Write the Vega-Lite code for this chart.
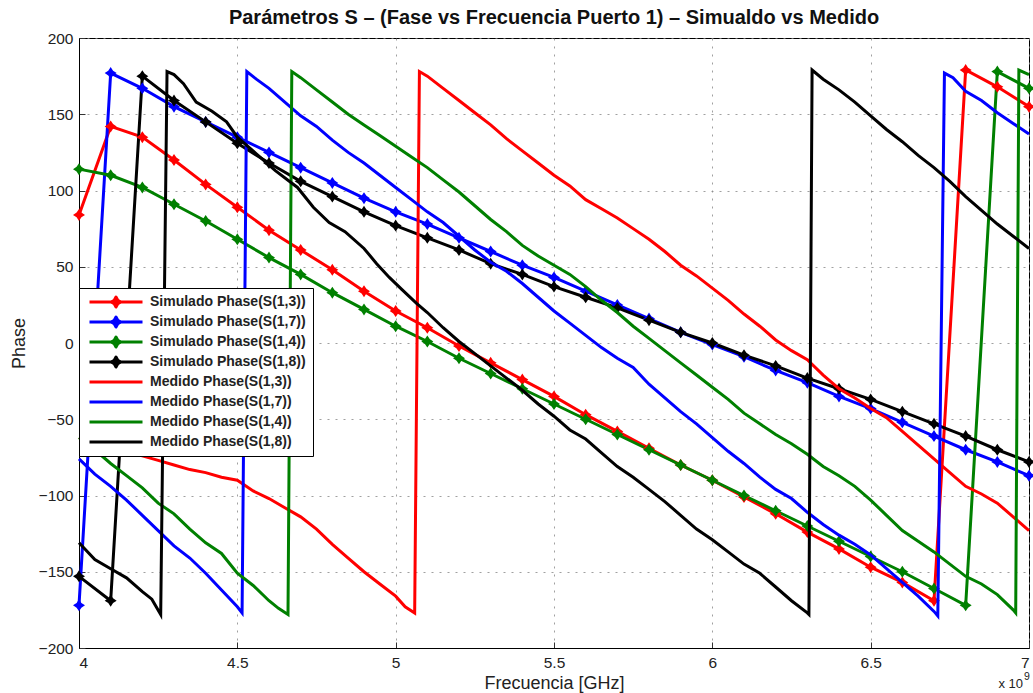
{
"$schema":"https://vega.github.io/schema/vega-lite/v6.json",
"width":950,"height":610,
"autosize":{"type":"none"},
"padding":{"left":79,"top":38,"right":4,"bottom":45},
"background":"white",
"title":{"text":"Parámetros S – (Fase vs Frecuencia Puerto 1) – Simualdo vs Medido","fontSize":20,"fontWeight":"bold","font":"Liberation Sans","offset":3,"anchor":"middle","color":"#111"},
"config":{"view":{"stroke":"black","strokeWidth":1},"font":"Liberation Sans",
"axis":{"labelFont":"Liberation Sans","labelFontSize":15.5,"labelColor":"#222","titleFont":"Liberation Sans","titleFontSize":18,"titleFontWeight":"normal","titleColor":"#222","grid":true,"gridColor":"#888","gridDash":[2,6],"gridOpacity":0.8,"domainColor":"black","ticks":true,"tickSize":-6,"tickColor":"#333","labelPadding":13}},
"data":{"values":[
{"s":"Simulado Phase(S(1,3))","f":4.0,"p":84},{"s":"Simulado Phase(S(1,3))","f":4.1,"p":142},{"s":"Simulado Phase(S(1,3))","f":4.2,"p":135},{"s":"Simulado Phase(S(1,3))","f":4.3,"p":120},{"s":"Simulado Phase(S(1,3))","f":4.4,"p":104},{"s":"Simulado Phase(S(1,3))","f":4.5,"p":89},{"s":"Simulado Phase(S(1,3))","f":4.6,"p":74},{"s":"Simulado Phase(S(1,3))","f":4.7,"p":61},{"s":"Simulado Phase(S(1,3))","f":4.8,"p":48},{"s":"Simulado Phase(S(1,3))","f":4.9,"p":34},{"s":"Simulado Phase(S(1,3))","f":5.0,"p":21},{"s":"Simulado Phase(S(1,3))","f":5.1,"p":10},{"s":"Simulado Phase(S(1,3))","f":5.2,"p":-2},{"s":"Simulado Phase(S(1,3))","f":5.3,"p":-13},{"s":"Simulado Phase(S(1,3))","f":5.4,"p":-24},{"s":"Simulado Phase(S(1,3))","f":5.5,"p":-35},{"s":"Simulado Phase(S(1,3))","f":5.6,"p":-47},{"s":"Simulado Phase(S(1,3))","f":5.7,"p":-58},{"s":"Simulado Phase(S(1,3))","f":5.8,"p":-69},{"s":"Simulado Phase(S(1,3))","f":5.9,"p":-80},{"s":"Simulado Phase(S(1,3))","f":6.0,"p":-90},{"s":"Simulado Phase(S(1,3))","f":6.1,"p":-101},{"s":"Simulado Phase(S(1,3))","f":6.2,"p":-112},{"s":"Simulado Phase(S(1,3))","f":6.3,"p":-124},{"s":"Simulado Phase(S(1,3))","f":6.4,"p":-135},{"s":"Simulado Phase(S(1,3))","f":6.5,"p":-147},{"s":"Simulado Phase(S(1,3))","f":6.6,"p":-157},{"s":"Simulado Phase(S(1,3))","f":6.7,"p":-169},{"s":"Simulado Phase(S(1,3))","f":6.8,"p":179},{"s":"Simulado Phase(S(1,3))","f":6.9,"p":168},{"s":"Simulado Phase(S(1,3))","f":7.0,"p":155},
{"s":"Simulado Phase(S(1,7))","f":4.0,"p":-172},{"s":"Simulado Phase(S(1,7))","f":4.1,"p":177},{"s":"Simulado Phase(S(1,7))","f":4.2,"p":167},{"s":"Simulado Phase(S(1,7))","f":4.3,"p":155},{"s":"Simulado Phase(S(1,7))","f":4.4,"p":145},{"s":"Simulado Phase(S(1,7))","f":4.5,"p":135},{"s":"Simulado Phase(S(1,7))","f":4.6,"p":125},{"s":"Simulado Phase(S(1,7))","f":4.7,"p":115},{"s":"Simulado Phase(S(1,7))","f":4.8,"p":105},{"s":"Simulado Phase(S(1,7))","f":4.9,"p":95},{"s":"Simulado Phase(S(1,7))","f":5.0,"p":86},{"s":"Simulado Phase(S(1,7))","f":5.1,"p":78},{"s":"Simulado Phase(S(1,7))","f":5.2,"p":69},{"s":"Simulado Phase(S(1,7))","f":5.3,"p":60},{"s":"Simulado Phase(S(1,7))","f":5.4,"p":51},{"s":"Simulado Phase(S(1,7))","f":5.5,"p":43},{"s":"Simulado Phase(S(1,7))","f":5.6,"p":34},{"s":"Simulado Phase(S(1,7))","f":5.7,"p":25},{"s":"Simulado Phase(S(1,7))","f":5.8,"p":16},{"s":"Simulado Phase(S(1,7))","f":5.9,"p":7},{"s":"Simulado Phase(S(1,7))","f":6.0,"p":-1},{"s":"Simulado Phase(S(1,7))","f":6.1,"p":-9},{"s":"Simulado Phase(S(1,7))","f":6.2,"p":-18},{"s":"Simulado Phase(S(1,7))","f":6.3,"p":-26},{"s":"Simulado Phase(S(1,7))","f":6.4,"p":-35},{"s":"Simulado Phase(S(1,7))","f":6.5,"p":-43},{"s":"Simulado Phase(S(1,7))","f":6.6,"p":-52},{"s":"Simulado Phase(S(1,7))","f":6.7,"p":-61},{"s":"Simulado Phase(S(1,7))","f":6.8,"p":-70},{"s":"Simulado Phase(S(1,7))","f":6.9,"p":-78},{"s":"Simulado Phase(S(1,7))","f":7.0,"p":-87},
{"s":"Simulado Phase(S(1,4))","f":4.0,"p":114},{"s":"Simulado Phase(S(1,4))","f":4.1,"p":110},{"s":"Simulado Phase(S(1,4))","f":4.2,"p":102},{"s":"Simulado Phase(S(1,4))","f":4.3,"p":91},{"s":"Simulado Phase(S(1,4))","f":4.4,"p":80},{"s":"Simulado Phase(S(1,4))","f":4.5,"p":68},{"s":"Simulado Phase(S(1,4))","f":4.6,"p":56},{"s":"Simulado Phase(S(1,4))","f":4.7,"p":45},{"s":"Simulado Phase(S(1,4))","f":4.8,"p":33},{"s":"Simulado Phase(S(1,4))","f":4.9,"p":22},{"s":"Simulado Phase(S(1,4))","f":5.0,"p":11},{"s":"Simulado Phase(S(1,4))","f":5.1,"p":1},{"s":"Simulado Phase(S(1,4))","f":5.2,"p":-10},{"s":"Simulado Phase(S(1,4))","f":5.3,"p":-20},{"s":"Simulado Phase(S(1,4))","f":5.4,"p":-30},{"s":"Simulado Phase(S(1,4))","f":5.5,"p":-40},{"s":"Simulado Phase(S(1,4))","f":5.6,"p":-50},{"s":"Simulado Phase(S(1,4))","f":5.7,"p":-60},{"s":"Simulado Phase(S(1,4))","f":5.8,"p":-70},{"s":"Simulado Phase(S(1,4))","f":5.9,"p":-80},{"s":"Simulado Phase(S(1,4))","f":6.0,"p":-90},{"s":"Simulado Phase(S(1,4))","f":6.1,"p":-100},{"s":"Simulado Phase(S(1,4))","f":6.2,"p":-110},{"s":"Simulado Phase(S(1,4))","f":6.3,"p":-120},{"s":"Simulado Phase(S(1,4))","f":6.4,"p":-130},{"s":"Simulado Phase(S(1,4))","f":6.5,"p":-140},{"s":"Simulado Phase(S(1,4))","f":6.6,"p":-150},{"s":"Simulado Phase(S(1,4))","f":6.7,"p":-161},{"s":"Simulado Phase(S(1,4))","f":6.8,"p":-172},{"s":"Simulado Phase(S(1,4))","f":6.9,"p":178},{"s":"Simulado Phase(S(1,4))","f":7.0,"p":167},
{"s":"Simulado Phase(S(1,8))","f":4.0,"p":-153},{"s":"Simulado Phase(S(1,8))","f":4.1,"p":-169},{"s":"Simulado Phase(S(1,8))","f":4.2,"p":175},{"s":"Simulado Phase(S(1,8))","f":4.3,"p":159},{"s":"Simulado Phase(S(1,8))","f":4.4,"p":145},{"s":"Simulado Phase(S(1,8))","f":4.5,"p":131},{"s":"Simulado Phase(S(1,8))","f":4.6,"p":118},{"s":"Simulado Phase(S(1,8))","f":4.7,"p":106},{"s":"Simulado Phase(S(1,8))","f":4.8,"p":96},{"s":"Simulado Phase(S(1,8))","f":4.9,"p":86},{"s":"Simulado Phase(S(1,8))","f":5.0,"p":77},{"s":"Simulado Phase(S(1,8))","f":5.1,"p":69},{"s":"Simulado Phase(S(1,8))","f":5.2,"p":61},{"s":"Simulado Phase(S(1,8))","f":5.3,"p":52},{"s":"Simulado Phase(S(1,8))","f":5.4,"p":45},{"s":"Simulado Phase(S(1,8))","f":5.5,"p":37},{"s":"Simulado Phase(S(1,8))","f":5.6,"p":30},{"s":"Simulado Phase(S(1,8))","f":5.7,"p":23},{"s":"Simulado Phase(S(1,8))","f":5.8,"p":15},{"s":"Simulado Phase(S(1,8))","f":5.9,"p":7},{"s":"Simulado Phase(S(1,8))","f":6.0,"p":0},{"s":"Simulado Phase(S(1,8))","f":6.1,"p":-8},{"s":"Simulado Phase(S(1,8))","f":6.2,"p":-15},{"s":"Simulado Phase(S(1,8))","f":6.3,"p":-23},{"s":"Simulado Phase(S(1,8))","f":6.4,"p":-30},{"s":"Simulado Phase(S(1,8))","f":6.5,"p":-37},{"s":"Simulado Phase(S(1,8))","f":6.6,"p":-45},{"s":"Simulado Phase(S(1,8))","f":6.7,"p":-53},{"s":"Simulado Phase(S(1,8))","f":6.8,"p":-61},{"s":"Simulado Phase(S(1,8))","f":6.9,"p":-70},{"s":"Simulado Phase(S(1,8))","f":7.0,"p":-78},
{"s":"Medido Phase(S(1,3))","f":4.0,"p":-62},{"s":"Medido Phase(S(1,3))","f":4.05,"p":-66},{"s":"Medido Phase(S(1,3))","f":4.1,"p":-69},{"s":"Medido Phase(S(1,3))","f":4.15,"p":-72},{"s":"Medido Phase(S(1,3))","f":4.2,"p":-74},{"s":"Medido Phase(S(1,3))","f":4.25,"p":-77},{"s":"Medido Phase(S(1,3))","f":4.3,"p":-80},{"s":"Medido Phase(S(1,3))","f":4.35,"p":-83},{"s":"Medido Phase(S(1,3))","f":4.4,"p":-85},{"s":"Medido Phase(S(1,3))","f":4.45,"p":-88},{"s":"Medido Phase(S(1,3))","f":4.5,"p":-90},{"s":"Medido Phase(S(1,3))","f":4.55,"p":-97},{"s":"Medido Phase(S(1,3))","f":4.6,"p":-102},{"s":"Medido Phase(S(1,3))","f":4.65,"p":-108},{"s":"Medido Phase(S(1,3))","f":4.7,"p":-114},{"s":"Medido Phase(S(1,3))","f":4.75,"p":-122},{"s":"Medido Phase(S(1,3))","f":4.8,"p":-132},{"s":"Medido Phase(S(1,3))","f":4.85,"p":-141},{"s":"Medido Phase(S(1,3))","f":4.9,"p":-150},{"s":"Medido Phase(S(1,3))","f":4.95,"p":-158},{"s":"Medido Phase(S(1,3))","f":5.0,"p":-166},{"s":"Medido Phase(S(1,3))","f":5.03,"p":-173},{"s":"Medido Phase(S(1,3))","f":5.06,"p":-177},{"s":"Medido Phase(S(1,3))","f":5.075,"p":178},{"s":"Medido Phase(S(1,3))","f":5.1,"p":175},{"s":"Medido Phase(S(1,3))","f":5.15,"p":167},{"s":"Medido Phase(S(1,3))","f":5.2,"p":159},{"s":"Medido Phase(S(1,3))","f":5.25,"p":151},{"s":"Medido Phase(S(1,3))","f":5.3,"p":143},{"s":"Medido Phase(S(1,3))","f":5.35,"p":134},{"s":"Medido Phase(S(1,3))","f":5.4,"p":126},{"s":"Medido Phase(S(1,3))","f":5.45,"p":118},{"s":"Medido Phase(S(1,3))","f":5.5,"p":110},{"s":"Medido Phase(S(1,3))","f":5.55,"p":103},{"s":"Medido Phase(S(1,3))","f":5.6,"p":94},{"s":"Medido Phase(S(1,3))","f":5.65,"p":88},{"s":"Medido Phase(S(1,3))","f":5.7,"p":82},{"s":"Medido Phase(S(1,3))","f":5.75,"p":75},{"s":"Medido Phase(S(1,3))","f":5.8,"p":68},{"s":"Medido Phase(S(1,3))","f":5.85,"p":60},{"s":"Medido Phase(S(1,3))","f":5.9,"p":51},{"s":"Medido Phase(S(1,3))","f":5.95,"p":44},{"s":"Medido Phase(S(1,3))","f":6.0,"p":36},{"s":"Medido Phase(S(1,3))","f":6.05,"p":28},{"s":"Medido Phase(S(1,3))","f":6.1,"p":19},{"s":"Medido Phase(S(1,3))","f":6.15,"p":11},{"s":"Medido Phase(S(1,3))","f":6.2,"p":2},{"s":"Medido Phase(S(1,3))","f":6.25,"p":-5},{"s":"Medido Phase(S(1,3))","f":6.3,"p":-11},{"s":"Medido Phase(S(1,3))","f":6.35,"p":-21},{"s":"Medido Phase(S(1,3))","f":6.4,"p":-30},{"s":"Medido Phase(S(1,3))","f":6.45,"p":-36},{"s":"Medido Phase(S(1,3))","f":6.5,"p":-43},{"s":"Medido Phase(S(1,3))","f":6.55,"p":-49},{"s":"Medido Phase(S(1,3))","f":6.6,"p":-58},{"s":"Medido Phase(S(1,3))","f":6.65,"p":-67},{"s":"Medido Phase(S(1,3))","f":6.7,"p":-76},{"s":"Medido Phase(S(1,3))","f":6.75,"p":-85},{"s":"Medido Phase(S(1,3))","f":6.8,"p":-94},{"s":"Medido Phase(S(1,3))","f":6.85,"p":-99},{"s":"Medido Phase(S(1,3))","f":6.9,"p":-105},{"s":"Medido Phase(S(1,3))","f":6.95,"p":-114},{"s":"Medido Phase(S(1,3))","f":7.0,"p":-123},
{"s":"Medido Phase(S(1,7))","f":4.0,"p":-76},{"s":"Medido Phase(S(1,7))","f":4.05,"p":-86},{"s":"Medido Phase(S(1,7))","f":4.1,"p":-94},{"s":"Medido Phase(S(1,7))","f":4.15,"p":-103},{"s":"Medido Phase(S(1,7))","f":4.2,"p":-113},{"s":"Medido Phase(S(1,7))","f":4.25,"p":-123},{"s":"Medido Phase(S(1,7))","f":4.3,"p":-133},{"s":"Medido Phase(S(1,7))","f":4.35,"p":-141},{"s":"Medido Phase(S(1,7))","f":4.4,"p":-151},{"s":"Medido Phase(S(1,7))","f":4.45,"p":-162},{"s":"Medido Phase(S(1,7))","f":4.5,"p":-173},{"s":"Medido Phase(S(1,7))","f":4.515,"p":-177},{"s":"Medido Phase(S(1,7))","f":4.53,"p":178},{"s":"Medido Phase(S(1,7))","f":4.56,"p":173},{"s":"Medido Phase(S(1,7))","f":4.6,"p":167},{"s":"Medido Phase(S(1,7))","f":4.65,"p":158},{"s":"Medido Phase(S(1,7))","f":4.7,"p":149},{"s":"Medido Phase(S(1,7))","f":4.75,"p":142},{"s":"Medido Phase(S(1,7))","f":4.8,"p":133},{"s":"Medido Phase(S(1,7))","f":4.85,"p":125},{"s":"Medido Phase(S(1,7))","f":4.9,"p":118},{"s":"Medido Phase(S(1,7))","f":4.95,"p":110},{"s":"Medido Phase(S(1,7))","f":5.0,"p":102},{"s":"Medido Phase(S(1,7))","f":5.05,"p":94},{"s":"Medido Phase(S(1,7))","f":5.1,"p":86},{"s":"Medido Phase(S(1,7))","f":5.15,"p":79},{"s":"Medido Phase(S(1,7))","f":5.2,"p":70},{"s":"Medido Phase(S(1,7))","f":5.25,"p":61},{"s":"Medido Phase(S(1,7))","f":5.3,"p":53},{"s":"Medido Phase(S(1,7))","f":5.35,"p":47},{"s":"Medido Phase(S(1,7))","f":5.4,"p":39},{"s":"Medido Phase(S(1,7))","f":5.45,"p":30},{"s":"Medido Phase(S(1,7))","f":5.5,"p":21},{"s":"Medido Phase(S(1,7))","f":5.55,"p":13},{"s":"Medido Phase(S(1,7))","f":5.6,"p":5},{"s":"Medido Phase(S(1,7))","f":5.65,"p":-3},{"s":"Medido Phase(S(1,7))","f":5.7,"p":-10},{"s":"Medido Phase(S(1,7))","f":5.75,"p":-16},{"s":"Medido Phase(S(1,7))","f":5.8,"p":-27},{"s":"Medido Phase(S(1,7))","f":5.85,"p":-36},{"s":"Medido Phase(S(1,7))","f":5.9,"p":-45},{"s":"Medido Phase(S(1,7))","f":5.95,"p":-53},{"s":"Medido Phase(S(1,7))","f":6.0,"p":-62},{"s":"Medido Phase(S(1,7))","f":6.05,"p":-71},{"s":"Medido Phase(S(1,7))","f":6.1,"p":-79},{"s":"Medido Phase(S(1,7))","f":6.15,"p":-88},{"s":"Medido Phase(S(1,7))","f":6.2,"p":-96},{"s":"Medido Phase(S(1,7))","f":6.25,"p":-102},{"s":"Medido Phase(S(1,7))","f":6.3,"p":-111},{"s":"Medido Phase(S(1,7))","f":6.35,"p":-119},{"s":"Medido Phase(S(1,7))","f":6.4,"p":-126},{"s":"Medido Phase(S(1,7))","f":6.45,"p":-132},{"s":"Medido Phase(S(1,7))","f":6.5,"p":-139},{"s":"Medido Phase(S(1,7))","f":6.55,"p":-148},{"s":"Medido Phase(S(1,7))","f":6.6,"p":-157},{"s":"Medido Phase(S(1,7))","f":6.65,"p":-166},{"s":"Medido Phase(S(1,7))","f":6.7,"p":-176},{"s":"Medido Phase(S(1,7))","f":6.712,"p":-179},{"s":"Medido Phase(S(1,7))","f":6.733,"p":177},{"s":"Medido Phase(S(1,7))","f":6.76,"p":174},{"s":"Medido Phase(S(1,7))","f":6.8,"p":165},{"s":"Medido Phase(S(1,7))","f":6.85,"p":159},{"s":"Medido Phase(S(1,7))","f":6.9,"p":151},{"s":"Medido Phase(S(1,7))","f":6.95,"p":144},{"s":"Medido Phase(S(1,7))","f":7.0,"p":137},
{"s":"Medido Phase(S(1,4))","f":4.0,"p":-62},{"s":"Medido Phase(S(1,4))","f":4.05,"p":-70},{"s":"Medido Phase(S(1,4))","f":4.1,"p":-79},{"s":"Medido Phase(S(1,4))","f":4.15,"p":-87},{"s":"Medido Phase(S(1,4))","f":4.2,"p":-95},{"s":"Medido Phase(S(1,4))","f":4.25,"p":-105},{"s":"Medido Phase(S(1,4))","f":4.3,"p":-112},{"s":"Medido Phase(S(1,4))","f":4.35,"p":-122},{"s":"Medido Phase(S(1,4))","f":4.4,"p":-131},{"s":"Medido Phase(S(1,4))","f":4.45,"p":-138},{"s":"Medido Phase(S(1,4))","f":4.5,"p":-151},{"s":"Medido Phase(S(1,4))","f":4.55,"p":-159},{"s":"Medido Phase(S(1,4))","f":4.6,"p":-169},{"s":"Medido Phase(S(1,4))","f":4.63,"p":-174},{"s":"Medido Phase(S(1,4))","f":4.66,"p":-178},{"s":"Medido Phase(S(1,4))","f":4.672,"p":178},{"s":"Medido Phase(S(1,4))","f":4.7,"p":174},{"s":"Medido Phase(S(1,4))","f":4.75,"p":166},{"s":"Medido Phase(S(1,4))","f":4.8,"p":158},{"s":"Medido Phase(S(1,4))","f":4.85,"p":150},{"s":"Medido Phase(S(1,4))","f":4.9,"p":143},{"s":"Medido Phase(S(1,4))","f":4.95,"p":136},{"s":"Medido Phase(S(1,4))","f":5.0,"p":129},{"s":"Medido Phase(S(1,4))","f":5.05,"p":122},{"s":"Medido Phase(S(1,4))","f":5.1,"p":115},{"s":"Medido Phase(S(1,4))","f":5.15,"p":107},{"s":"Medido Phase(S(1,4))","f":5.2,"p":99},{"s":"Medido Phase(S(1,4))","f":5.25,"p":90},{"s":"Medido Phase(S(1,4))","f":5.3,"p":81},{"s":"Medido Phase(S(1,4))","f":5.35,"p":73},{"s":"Medido Phase(S(1,4))","f":5.4,"p":64},{"s":"Medido Phase(S(1,4))","f":5.45,"p":57},{"s":"Medido Phase(S(1,4))","f":5.5,"p":51},{"s":"Medido Phase(S(1,4))","f":5.55,"p":45},{"s":"Medido Phase(S(1,4))","f":5.6,"p":37},{"s":"Medido Phase(S(1,4))","f":5.65,"p":28},{"s":"Medido Phase(S(1,4))","f":5.7,"p":20},{"s":"Medido Phase(S(1,4))","f":5.75,"p":11},{"s":"Medido Phase(S(1,4))","f":5.8,"p":3},{"s":"Medido Phase(S(1,4))","f":5.85,"p":-5},{"s":"Medido Phase(S(1,4))","f":5.9,"p":-13},{"s":"Medido Phase(S(1,4))","f":5.95,"p":-21},{"s":"Medido Phase(S(1,4))","f":6.0,"p":-29},{"s":"Medido Phase(S(1,4))","f":6.05,"p":-37},{"s":"Medido Phase(S(1,4))","f":6.1,"p":-46},{"s":"Medido Phase(S(1,4))","f":6.15,"p":-53},{"s":"Medido Phase(S(1,4))","f":6.2,"p":-60},{"s":"Medido Phase(S(1,4))","f":6.25,"p":-66},{"s":"Medido Phase(S(1,4))","f":6.3,"p":-73},{"s":"Medido Phase(S(1,4))","f":6.35,"p":-81},{"s":"Medido Phase(S(1,4))","f":6.4,"p":-87},{"s":"Medido Phase(S(1,4))","f":6.45,"p":-94},{"s":"Medido Phase(S(1,4))","f":6.5,"p":-103},{"s":"Medido Phase(S(1,4))","f":6.55,"p":-113},{"s":"Medido Phase(S(1,4))","f":6.6,"p":-123},{"s":"Medido Phase(S(1,4))","f":6.65,"p":-130},{"s":"Medido Phase(S(1,4))","f":6.7,"p":-137},{"s":"Medido Phase(S(1,4))","f":6.75,"p":-145},{"s":"Medido Phase(S(1,4))","f":6.8,"p":-153},{"s":"Medido Phase(S(1,4))","f":6.85,"p":-158},{"s":"Medido Phase(S(1,4))","f":6.9,"p":-165},{"s":"Medido Phase(S(1,4))","f":6.95,"p":-175},{"s":"Medido Phase(S(1,4))","f":6.958,"p":-177},{"s":"Medido Phase(S(1,4))","f":6.968,"p":179},{"s":"Medido Phase(S(1,4))","f":7.0,"p":176},
{"s":"Medido Phase(S(1,8))","f":4.0,"p":-131},{"s":"Medido Phase(S(1,8))","f":4.05,"p":-142},{"s":"Medido Phase(S(1,8))","f":4.1,"p":-148},{"s":"Medido Phase(S(1,8))","f":4.15,"p":-154},{"s":"Medido Phase(S(1,8))","f":4.2,"p":-163},{"s":"Medido Phase(S(1,8))","f":4.23,"p":-168},{"s":"Medido Phase(S(1,8))","f":4.258,"p":-178},{"s":"Medido Phase(S(1,8))","f":4.278,"p":178},{"s":"Medido Phase(S(1,8))","f":4.3,"p":176},{"s":"Medido Phase(S(1,8))","f":4.33,"p":170},{"s":"Medido Phase(S(1,8))","f":4.37,"p":158},{"s":"Medido Phase(S(1,8))","f":4.42,"p":152},{"s":"Medido Phase(S(1,8))","f":4.466,"p":145},{"s":"Medido Phase(S(1,8))","f":4.5,"p":135},{"s":"Medido Phase(S(1,8))","f":4.56,"p":124},{"s":"Medido Phase(S(1,8))","f":4.62,"p":113},{"s":"Medido Phase(S(1,8))","f":4.69,"p":102},{"s":"Medido Phase(S(1,8))","f":4.74,"p":89},{"s":"Medido Phase(S(1,8))","f":4.79,"p":79},{"s":"Medido Phase(S(1,8))","f":4.84,"p":73},{"s":"Medido Phase(S(1,8))","f":4.9,"p":62},{"s":"Medido Phase(S(1,8))","f":4.94,"p":52},{"s":"Medido Phase(S(1,8))","f":4.98,"p":43},{"s":"Medido Phase(S(1,8))","f":5.02,"p":35},{"s":"Medido Phase(S(1,8))","f":5.066,"p":26},{"s":"Medido Phase(S(1,8))","f":5.1,"p":20},{"s":"Medido Phase(S(1,8))","f":5.15,"p":10},{"s":"Medido Phase(S(1,8))","f":5.2,"p":1},{"s":"Medido Phase(S(1,8))","f":5.25,"p":-7},{"s":"Medido Phase(S(1,8))","f":5.3,"p":-15},{"s":"Medido Phase(S(1,8))","f":5.35,"p":-23},{"s":"Medido Phase(S(1,8))","f":5.4,"p":-31},{"s":"Medido Phase(S(1,8))","f":5.45,"p":-40},{"s":"Medido Phase(S(1,8))","f":5.5,"p":-48},{"s":"Medido Phase(S(1,8))","f":5.55,"p":-57},{"s":"Medido Phase(S(1,8))","f":5.6,"p":-63},{"s":"Medido Phase(S(1,8))","f":5.65,"p":-72},{"s":"Medido Phase(S(1,8))","f":5.7,"p":-81},{"s":"Medido Phase(S(1,8))","f":5.75,"p":-88},{"s":"Medido Phase(S(1,8))","f":5.8,"p":-96},{"s":"Medido Phase(S(1,8))","f":5.85,"p":-104},{"s":"Medido Phase(S(1,8))","f":5.9,"p":-113},{"s":"Medido Phase(S(1,8))","f":5.95,"p":-122},{"s":"Medido Phase(S(1,8))","f":6.0,"p":-129},{"s":"Medido Phase(S(1,8))","f":6.05,"p":-137},{"s":"Medido Phase(S(1,8))","f":6.1,"p":-145},{"s":"Medido Phase(S(1,8))","f":6.15,"p":-151},{"s":"Medido Phase(S(1,8))","f":6.2,"p":-160},{"s":"Medido Phase(S(1,8))","f":6.25,"p":-169},{"s":"Medido Phase(S(1,8))","f":6.3,"p":-177},{"s":"Medido Phase(S(1,8))","f":6.305,"p":-178},{"s":"Medido Phase(S(1,8))","f":6.315,"p":179},{"s":"Medido Phase(S(1,8))","f":6.35,"p":173},{"s":"Medido Phase(S(1,8))","f":6.4,"p":166},{"s":"Medido Phase(S(1,8))","f":6.45,"p":158},{"s":"Medido Phase(S(1,8))","f":6.5,"p":149},{"s":"Medido Phase(S(1,8))","f":6.55,"p":140},{"s":"Medido Phase(S(1,8))","f":6.6,"p":132},{"s":"Medido Phase(S(1,8))","f":6.65,"p":123},{"s":"Medido Phase(S(1,8))","f":6.7,"p":115},{"s":"Medido Phase(S(1,8))","f":6.75,"p":106},{"s":"Medido Phase(S(1,8))","f":6.8,"p":96},{"s":"Medido Phase(S(1,8))","f":6.85,"p":87},{"s":"Medido Phase(S(1,8))","f":6.9,"p":78},{"s":"Medido Phase(S(1,8))","f":6.95,"p":70},{"s":"Medido Phase(S(1,8))","f":7.0,"p":62}
]},
"layer":[
{"encoding":{
"x":{"field":"f","type":"quantitative","scale":{"domain":[4,7],"nice":false,"zero":false},"axis":{"title":"Frecuencia [GHz]","values":[4,4.5,5,5.5,6,6.5,7],"format":".1~f","titlePadding":4}},
"y":{"field":"p","type":"quantitative","scale":{"domain":[-200,200],"nice":false},"axis":{"title":"Phase","values":[-200,-150,-100,-50,0,50,100,150,200],"titlePadding":10,"labelPadding":12}},
"color":{"field":"s","type":"nominal","scale":{"domain":["Simulado Phase(S(1,3))","Simulado Phase(S(1,7))","Simulado Phase(S(1,4))","Simulado Phase(S(1,8))","Medido Phase(S(1,3))","Medido Phase(S(1,7))","Medido Phase(S(1,4))","Medido Phase(S(1,8))"],"range":["#ff0000","#0000ff","#008000","#000000","#ff0000","#0000ff","#008000","#000000"]},
"legend":{"orient":"none","legendX":0,"legendY":250,"title":null,"fillColor":"white","strokeColor":"black","padding":7,"labelFont":"Liberation Sans","labelFontSize":14,"labelFontWeight":"bold","labelColor":"#222","labelLimit":300,"symbolSize":100,"symbolStrokeWidth":3,"symbolOffset":23,"labelOffset":27,"rowPadding":6,
"encode":{"symbols":{"update":{"shape":{"signal":"indexof(datum.value,'Simulado')===0 ? 'M-5.3,0L5.3,0M0,-1L0.35,-0.35L1,0L0.35,0.35L0,1L-0.35,0.35L-1,0L-0.35,-0.35Z' : 'M-5.3,0L5.3,0'"},"fill":{"scale":"color","field":"value"},"stroke":{"scale":"color","field":"value"},"strokeWidth":{"value":3},"strokeJoin":{"value":"round"},"size":{"value":100},"opacity":{"value":1}}}}}}
},
"layer":[
{"transform":[{"filter":"indexof(datum.s,'Simulado')===0"}],"mark":{"type":"line","strokeWidth":3}},
{"transform":[{"filter":"indexof(datum.s,'Simulado')===0"}],"mark":{"type":"point","filled":true,"opacity":1,"size":144,"shape":"M0,-1L0.4,-0.4L1,0L0.4,0.4L0,1L-0.4,0.4L-1,0L-0.4,-0.4Z"}},
{"transform":[{"filter":"indexof(datum.s,'Medido')===0"}],"mark":{"type":"line","strokeWidth":3}}
]},
{"data":{"values":[{"t":"x 10"}]},"mark":{"type":"text","align":"right","baseline":"middle","dx":-6,"dy":36,"fontSize":13,"font":"Liberation Sans"},"encoding":{"x":{"datum":7,"type":"quantitative"},"y":{"datum":-200,"type":"quantitative"},"text":{"field":"t","type":"nominal"},"color":{"value":"#222"}}},
{"data":{"values":[{"t":"9"}]},"mark":{"type":"text","align":"left","baseline":"middle","dx":-5,"dy":29,"fontSize":10.5,"font":"Liberation Sans"},"encoding":{"x":{"datum":7,"type":"quantitative"},"y":{"datum":-200,"type":"quantitative"},"text":{"field":"t","type":"nominal"},"color":{"value":"#222"}}}
]
}
